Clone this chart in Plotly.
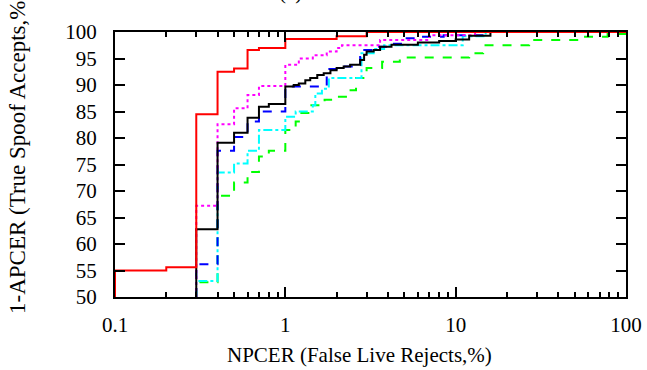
import plotly.graph_objects as go

# ---- data (step vertices) ----
red_x = [0.1, 0.1, 0.2, 0.3, 0.4, 0.5, 0.6, 0.7, 1.0, 2.0, 3.0, 100]
red_y = [50, 55.0, 55.6, 84.5, 92.5, 93.1, 96.6, 97.0, 98.7, 99.2, 100, 100]

mag_x = [0.3, 0.3, 0.4, 0.5, 0.6, 0.7, 1.0, 1.2, 1.45, 1.75, 2.0, 2.15, 3.6, 7.0, 13, 100]
mag_y = [50, 67.2, 82.6, 85.6, 88.1, 89.8, 93.8, 95.0, 95.6, 96.3, 97.0, 97.5, 98.5, 99.4, 100, 100]

blk_x = [0.3, 0.3, 0.4, 0.5, 0.6, 0.7, 0.8, 1.0, 1.12, 1.2, 1.31, 1.4, 1.54, 1.68, 1.84,
         2.0, 2.2, 2.4, 2.75, 2.9, 3.0, 3.3, 3.6, 4.2, 6.0, 8.0, 10, 12, 16, 100]
blk_y = [50, 62.8, 79.1, 81.0, 83.8, 85.9, 86.4, 89.7, 90.0, 90.3, 90.9, 91.3, 91.9, 92.2, 92.8,
         93.2, 93.5, 93.8, 94.7, 95.7, 96.3, 96.6, 97.2, 97.6, 98.0, 98.3, 98.6, 99.3, 100, 100]

blu_x = [0.3, 0.3, 0.4, 0.5, 0.6, 0.7, 1.0, 1.6, 1.75, 2.2, 2.5, 2.75, 3.3, 4.2, 5.0, 6.2, 8.5, 15, 100]
blu_y = [50, 56.2, 77.6, 80.2, 83.1, 85.0, 89.7, 90.1, 93.0, 93.5, 93.8, 96.6, 97.2, 97.8, 98.8, 99.1, 99.4, 100, 100]

cya_x = [0.3, 0.3, 0.4, 0.5, 0.6, 0.7, 1.0, 1.15, 1.45, 1.5, 1.64, 1.8, 2.8, 3.3, 3.8, 11, 15, 100]
cya_y = [50, 53.0, 73.5, 75.2, 77.6, 81.5, 84.0, 85.0, 86.2, 88.4, 89.3, 91.3, 96.0, 96.8, 97.5, 99.2, 100, 100]

grn_x = [0.3, 0.3, 0.4, 0.5, 0.6, 0.7, 0.8, 1.0, 1.08, 1.15, 1.22, 1.4, 1.7, 2.0, 2.3, 2.6,
         3.0, 3.7, 4.7, 9.8, 12, 14.5, 27, 53, 78, 100]
grn_y = [50, 52.8, 69.1, 71.6, 73.6, 76.5, 77.6, 81.5, 82.1, 83.1, 84.7, 86.2, 87.2, 87.8, 89.0, 91.3,
         93.2, 94.4, 95.2, 95.2, 96.0, 97.5, 98.5, 99.1, 99.6, 99.6]

x_major = [0.1, 1, 10, 100]
x_major_text = ["0.1", "1", "10", "100"]
x_minor = [m * d for d in (0.1, 1, 10) for m in range(2, 10)]
y_ticks = list(range(50, 101, 5))

title_text = "(c)"
x_title = "NPCER (False Live Rejects,%)"
y_title = "1-APCER (True Spoof Accepts,%)"

FONT = "Times New Roman, Liberation Serif, DejaVu Serif, serif"

fig = go.Figure()
series = [
    (grn_x, grn_y, "#00ff00", "dash", 2),
    (cya_x, cya_y, "#00ffff", "dashdot", 2),
    (blu_x, blu_y, "#0000ff", "dash", 2),
    (mag_x, mag_y, "#ff00ff", "dot", 2),
    (blk_x, blk_y, "#000000", "solid", 2),
    (red_x, red_y, "#ff0000", "solid", 2),
]
for xs, ys, col, dash, w in series:
    fig.add_trace(go.Scatter(x=xs, y=ys, mode="lines", line=dict(color=col, dash=dash, width=w, shape="hv"),
                             showlegend=False, hoverinfo="skip"))

axis_common = dict(showline=True, linecolor="black", linewidth=2, mirror="ticks", ticks="inside",
                   tickcolor="black", tickwidth=2, showgrid=False, zeroline=False, automargin=False,
                   tickfont=dict(family=FONT, size=21, color="black"))

fig.update_xaxes(type="log", range=[-1, 2], tickvals=x_major, ticktext=x_major_text, ticklen=10,
                 ticklabelstandoff=8,
                 minor=dict(tickvals=x_minor, ticks="inside", ticklen=5, tickwidth=1.5, tickcolor="black",
                            showgrid=False),
                 **axis_common)
fig.update_yaxes(range=[50, 100], tickvals=y_ticks, ticklen=10, ticklabelstandoff=12, **axis_common)

fig.update_layout(
    width=647, height=370,
    margin=dict(l=115, r=21, t=32, b=73, autoexpand=False),
    paper_bgcolor="white", plot_bgcolor="white",
    font=dict(family=FONT, size=20, color="black"),
    annotations=[
        dict(text=x_title, xref="paper", yref="paper", x=0.4775, y=-0.219, showarrow=False,
             xanchor="center", yanchor="middle", font=dict(family=FONT, size=21, color="black")),
        dict(text=y_title, xref="paper", yref="paper", x=-0.192, y=0.543, showarrow=False, textangle=-90,
             xanchor="center", yanchor="middle", font=dict(family=FONT, size=23, color="black")),
        dict(text=title_text, xref="paper", yref="paper", x=0.344, y=1.098, showarrow=False,
             xanchor="center", yanchor="bottom", font=dict(family=FONT, size=21, color="black")),
    ],
)

fig.write_html("out.html")
